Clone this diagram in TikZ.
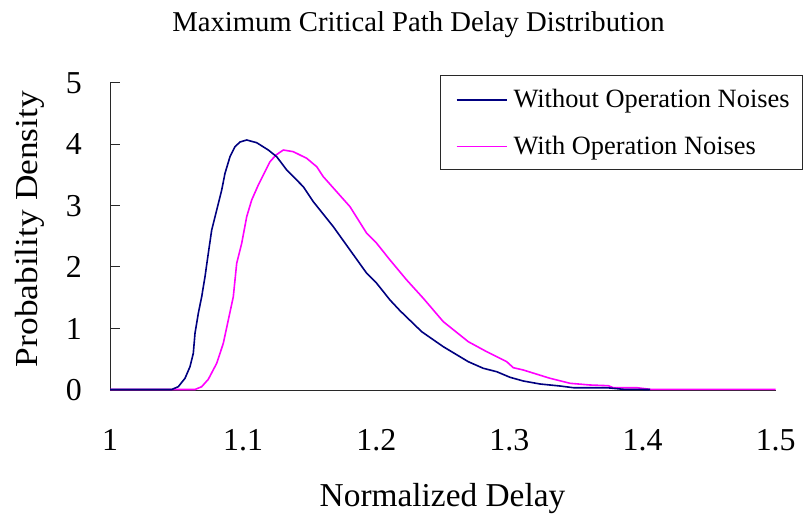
\documentclass[tikz,border=0pt]{standalone}
\usepackage{fontspec}
\setmainfont{Liberation Serif}
\definecolor{curvenavy}{RGB}{0,0,128}
\definecolor{curvemagenta}{RGB}{255,0,255}
\definecolor{axisgray}{RGB}{40,40,40}
\begin{document}
\begin{tikzpicture}[x=1bp,y=-1bp,
  axisline/.style={draw=axisgray,line width=1bp},
  tickmark/.style={draw=axisgray,line width=1bp},
  ticklabel/.style={inner sep=0pt,font=\fontsize{32}{36}\selectfont},
  axistitle/.style={inner sep=0pt,font=\fontsize{33.5}{38}\selectfont},
  legendtext/.style={inner sep=0pt,anchor=base west,font=\fontsize{26.5}{30}\selectfont},
  curveA/.style={draw=curvenavy,line width=1.6bp,line join=round},
  curveB/.style={draw=curvemagenta,line width=1.6bp,line join=round}]
\useasboundingbox (0,0) rectangle (804,521);
\fill[white] (0,0) rectangle (804,521);

% title
\node[inner sep=0pt,anchor=base,font=\fontsize{28.8}{32}\selectfont] (title) at (418.5,31.7)
  {Maximum Critical Path Delay Distribution};

% axes: x from 1 (110) to 1.5 (775.7); y from 0 (390) to 5 (82.7)
\coordinate (origin) at (110,390);
\coordinate (xend) at (775.7,390);
\coordinate (ytop) at (110,82.7);
\draw[axisline] (ytop) -- (origin) -- (xend);

% y ticks and labels
\foreach \v/\py in {0/390,1/328.5,2/267,3/205.6,4/144.1,5/82.7}{
  \coordinate (yt\v) at (110,\py);
  \draw[tickmark] (yt\v) -- ++(10,0);
  \node[ticklabel,anchor=base east] (yl\v) at (82,\py+10.8) {\v};
}
% x ticks and labels
\foreach \v/\px in {1/110,1.1/243.1,1.2/376.3,1.3/509.4,1.4/642.6,1.5/775.7}{
  \coordinate (xt\v) at (\px,390);
  \draw[tickmark] (xt\v) -- ++(0,-10);
  \node[ticklabel,anchor=base] (xl\v) at (\px,450.8) {\v};
}

% axis titles
\node[axistitle,anchor=base] (xtitle) at (442.5,506) {Normalized Delay};
\node[axistitle,anchor=base,rotate=90] (ytitle) at (37.3,229)
  {\scalebox{1.06}[0.96]{Probability Density}};

% magenta: with operation noises
\draw[curveB] (110,389.5) -- (195,389.5) -- (201.7,386.7) -- (208.3,379.3) -- (216.7,363.3)
  -- (223.3,343.3) -- (228.3,320) -- (233.3,296.7) -- (236.7,263.3) -- (241.7,243.3)
  -- (246.7,216.7) -- (251.7,200) -- (258.3,185) -- (270,161.7) -- (276,155)
  -- (283.3,150) -- (293.3,151.7) -- (306.7,158.3) -- (316.7,166.7) -- (323.3,176.7)
  -- (350,206.7) -- (366.7,233.3) -- (376.7,243.3) -- (390,260) -- (406.7,280)
  -- (423.3,298.3) -- (443.3,321.7) -- (468.3,341.7) -- (486.7,351.7) -- (506.7,361.7)
  -- (513.3,367.7) -- (523.3,370) -- (550,378.3) -- (570,383.3) -- (590,385)
  -- (608.3,385.7) -- (613.3,387.7) -- (636.7,387.7) -- (650,389.3) -- (775.7,389.3);

% navy: without operation noises
\draw[curveA] (110,389.5) -- (171.7,389.5) -- (178.3,386.7) -- (185,378.3) -- (190,366.7)
  -- (193.3,353.3) -- (195,333.3) -- (198.3,313.3) -- (201.7,296.7) -- (205,276.7)
  -- (208.3,253.3) -- (211.7,230) -- (216.7,210) -- (221.7,190) -- (225,173.3)
  -- (230,156.7) -- (235,146.7) -- (240,142) -- (246.7,140) -- (256.7,142.7)
  -- (268.3,150) -- (276.7,156.7) -- (286.7,170) -- (303.3,186.7) -- (313.3,201.7)
  -- (333.3,226.7) -- (350,250) -- (366.7,273.3) -- (376.7,283.3) -- (390,300)
  -- (400,310.7) -- (421.7,331.7) -- (443.3,346.7) -- (468.3,361.7) -- (483.3,368.3)
  -- (496.7,371.7) -- (510,377.3) -- (523.3,381) -- (540,384) -- (560,386)
  -- (573.3,387.7) -- (606.7,387.7) -- (623.3,389.3) -- (650,389.5);

% legend
\draw[draw=axisgray,line width=1bp] (440,76) rectangle (802,170);
\coordinate (la1) at (456.7,100);
\coordinate (lb1) at (506.7,100);
\coordinate (la2) at (456.7,146.7);
\coordinate (lb2) at (506.7,146.7);
\draw[curveA] (la1) -- (lb1);
\draw[curveB] (la2) -- (lb2);
\node[legendtext] (leg1) at (513.3,107.3) {Without Operation Noises};
\node[legendtext] (leg2) at (513.3,155) {With Operation Noises};
\end{tikzpicture}
\end{document}
